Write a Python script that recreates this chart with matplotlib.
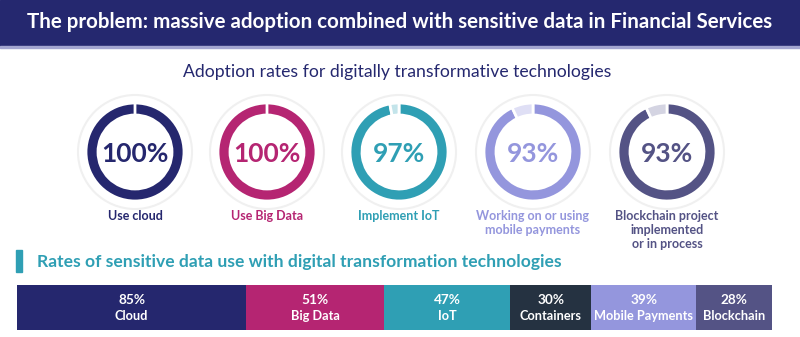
import numpy as np
import matplotlib.pyplot as plt
from matplotlib.patches import Rectangle, Circle

plt.rcParams['font.family'] = ['Lato', 'DejaVu Sans']

# adoption donuts
adopt_labels = ["Use cloud", "Use Big Data", "Implement IoT",
                "Working on or using\nmobile payments",
                "Blockchain project\nimplemented\nor in process"]
adopt_pct = [100, 100, 97, 93, 93]
adopt_colors = ["#25276e", "#b52572", "#2f9fb4", "#9496dd", "#545385"]
adopt_light = ["#d6d7ea", "#f0cfe0", "#c3e4ea", "#dfdff5", "#d4d4e2"]

# sensitive data bar
sens_labels = ["Cloud", "Big Data", "IoT", "Containers", "Mobile Payments", "Blockchain"]
sens_pct = [85, 51, 47, 30, 39, 28]
sens_colors = ["#25276e", "#b52572", "#2f9fb4", "#253241", "#9496dd", "#545385"]

navy = "#25286f"
teal = "#2f9fb4"

W, H = 800, 337
fig = plt.figure(figsize=(8, 3.37), dpi=100)
ax = fig.add_axes([0, 0, 1, 1])


def py(y):  # pixel row (from top) -> data y
    return H - y


# title banner
ax.add_patch(Rectangle((0, py(46)), W, 46, color=navy, zorder=1))
ax.add_patch(Rectangle((0, py(48)), W, 2, color="#a3a5d0", zorder=1))
ax.text(400, py(22), "The problem: massive adoption combined with sensitive data in Financial Services",
        color='white', fontsize=14.8, fontweight='bold', ha='center', va='center')

ax.text(397, py(72), "Adoption rates for digitally transformative technologies",
        color=navy, fontsize=12.7, ha='center', va='center')

centers = [135, 267, 399, 533, 667]
for i in range(len(adopt_pct)):
    cx, cy = centers[i], py(152)
    ax.add_patch(Circle((cx, cy), 57, facecolor='white', edgecolor='#f0f0f0', lw=1.5, zorder=1))
    ax.pie([adopt_pct[i], 100 - adopt_pct[i]], colors=[adopt_colors[i], adopt_light[i]],
           startangle=90, counterclock=False, center=(cx, cy), radius=49, frame=True,
           wedgeprops=dict(width=12, edgecolor='white', linewidth=2))
    ax.text(cx, cy, "%d%%" % adopt_pct[i], color=adopt_colors[i], fontsize=19,
            fontweight='bold', ha='center', va='center_baseline')
    ax.text(cx, py(210), adopt_labels[i], color=adopt_colors[i], fontsize=9,
            fontweight='bold', ha='center', va='top', linespacing=1.2)

# second section heading
ax.add_patch(Rectangle((16, py(272)), 6, 22, color=teal))
ax.text(37, py(262), "Rates of sensitive data use with digital transformation technologies",
        color=teal, fontsize=12.6, fontweight='bold', ha='left', va='center')

ax.set_xlim(0, W)
ax.set_ylim(0, H)
ax.axis('off')

# stacked bar
bax = fig.add_axes([17 / W, (H - 330) / H, 755 / W, 45 / H])
lefts = np.concatenate([[0], np.cumsum(sens_pct)[:-1]])
bax.barh(0, sens_pct, left=lefts, color=sens_colors, height=1)
for i in range(len(sens_pct)):
    xm = lefts[i] + sens_pct[i] / 2
    bax.text(xm, 0.17, "%d%%" % sens_pct[i], color='white', fontsize=9.8,
             fontweight='bold', ha='center', va='center')
    bax.text(xm, -0.19, sens_labels[i], color='white', fontsize=9.2,
             fontweight='bold', ha='center', va='center')
bax.set_xlim(0, sum(sens_pct))
bax.set_ylim(-0.5, 0.5)
bax.axis('off')

fig.savefig("out.png", dpi=100)
